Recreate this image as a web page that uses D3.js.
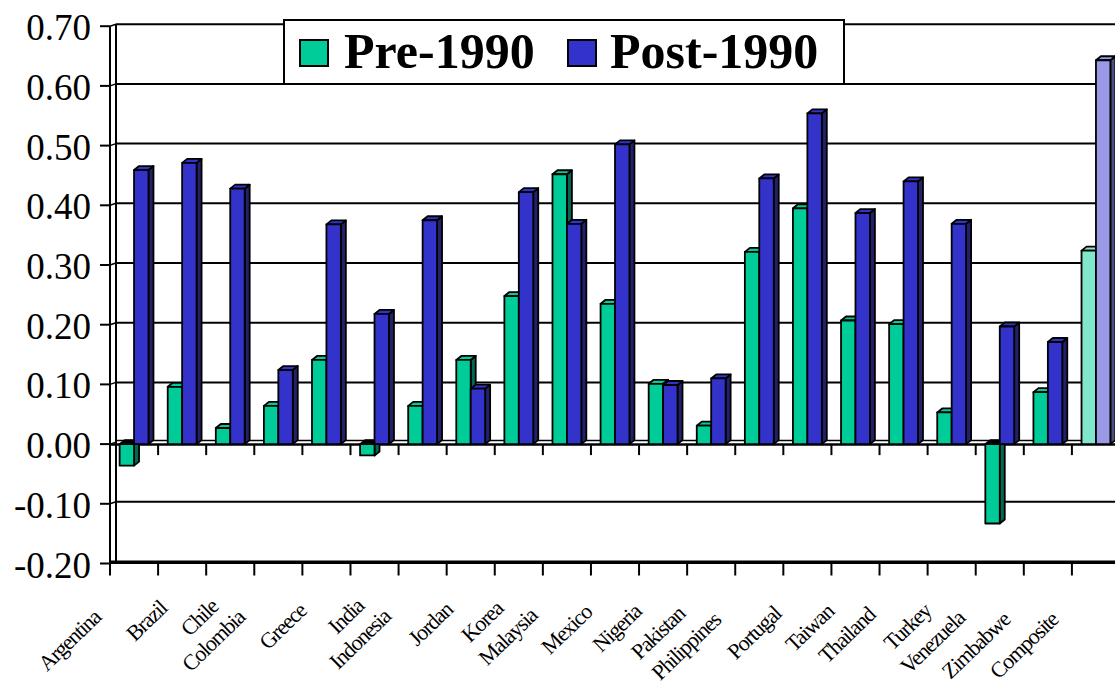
<!DOCTYPE html>
<html>
<head>
<meta charset="utf-8">
<script src="https://cdn.jsdelivr.net/npm/d3@7"></script>
<style>
  html, body { margin: 0; padding: 0; background: #fff; }
  svg { display: block; }
</style>
</head>
<body>
<svg id="chart" width="1115" height="684"></svg>
<script>
const categories = ['Argentina', 'Brazil', 'Chile', 'Colombia', 'Greece', 'India', 'Indonesia',
  'Jordan', 'Korea', 'Malaysia', 'Mexico', 'Nigeria', 'Pakistan', 'Philippines', 'Portugal',
  'Taiwan', 'Thailand', 'Turkey', 'Venezuela', 'Zimbabwe', 'Composite'];
const pre1990 = [-0.036, 0.096, 0.027, 0.064, 0.141, -0.019, 0.064, 0.141, 0.248, 0.452, 0.235,
  0.101, 0.031, 0.322, 0.395, 0.207, 0.201, 0.053, -0.133, 0.087, 0.324];
const post1990 = [0.459, 0.471, 0.428, 0.124, 0.368, 0.218, 0.375, 0.093, 0.422, 0.369, 0.502,
  0.099, 0.110, 0.445, 0.554, 0.387, 0.440, 0.369, 0.197, 0.171, 0.643];
const seriesNames = ['Pre-1990', 'Post-1990'];
const yTicks = [-0.2, -0.1, 0, 0.1, 0.2, 0.3, 0.4, 0.5, 0.6, 0.7];

// colours: front, top, side ; the composite gets the pale versions
const palette = {
  'Pre-1990': { front: '#00cc99', top: '#00cc99', side: '#006a50' },
  'Post-1990': { front: '#3333cc', top: '#3333cc', side: '#22226b' }
};
const paletteComposite = {
  'Pre-1990': { front: '#80e6cc', top: '#80e6cc', side: '#40806a' },
  'Post-1990': { front: '#9999e6', top: '#9999e6', side: '#4d4d80' }
};

const svg = d3.select('#chart');
const serif = '"Liberation Serif", "Times New Roman", serif';
const dx = 5, dy = 4;       // depth offset of the 3d bars
const wallX = 116;          // back wall left edge
const right = 1120;

const y = d3.scaleLinear().domain([-0.2, 0.7]).range([563.5, 26.2]);
const x = d3.scaleBand().domain(categories).range([110, right]).padding(0);
const bw = x.bandwidth();
const fmt = d3.formatLocale({ decimal: '.', thousands: ',', grouping: [3], currency: ['', ''], minus: '-' }).format('.2f');

const grid = svg.append('g').attr('stroke', '#000').attr('fill', 'none');

// back wall grid lines + left axis ticks
yTicks.forEach(v => {
  const yy = y(v);
  if (v > -0.2 && v !== 0) {
    grid.append('line').attr('x1', wallX).attr('x2', right).attr('y1', yy - 2).attr('y2', yy - 2).attr('stroke-width', 2);
  }
  grid.append('line').attr('x1', 100).attr('x2', 110).attr('y1', yy).attr('y2', yy).attr('stroke-width', 2);
  grid.append('line').attr('x1', 110).attr('x2', wallX).attr('y1', yy).attr('y2', yy - 2).attr('stroke-width', 1.5);
});

// left axis (double line)
grid.append('line').attr('x1', 110).attr('x2', 110).attr('y1', y(0.7)).attr('y2', y(-0.2) + 1).attr('stroke-width', 2);
grid.append('line').attr('x1', wallX).attr('x2', wallX).attr('y1', y(0.7) - 2).attr('y2', y(-0.2) - 2).attr('stroke-width', 2);

// floor at -0.20
grid.append('line').attr('x1', 110).attr('x2', right).attr('y1', y(-0.2) - 1.2).attr('y2', y(-0.2) - 1.2).attr('stroke-width', 3.4);
d3.range(categories.length + 1).forEach(i => {
  const xx = 110 + i * bw;
  grid.append('line').attr('x1', xx).attr('x2', xx).attr('y1', y(-0.2)).attr('y2', y(-0.2) + 12).attr('stroke-width', 2);
});

// zero plane
const y0 = y(0);
grid.append('line').attr('x1', wallX).attr('x2', right).attr('y1', y0 - 3.5).attr('y2', y0 - 3.5).attr('stroke-width', 1.5);
grid.append('line').attr('x1', 110).attr('x2', right).attr('y1', y0 + 0.5).attr('y2', y0 + 0.5).attr('stroke-width', 2.5);
d3.range(1, categories.length + 1).forEach(i => {
  const xx = 110 + i * bw;
  grid.append('line').attr('x1', xx).attr('x2', xx).attr('y1', y0).attr('y2', y0 + 11).attr('stroke-width', 2);
});

// y tick labels
svg.append('g').selectAll('text').data(yTicks).join('text')
  .attr('x', 91).attr('y', d => y(d) + 14)
  .attr('text-anchor', 'end')
  .style('font-family', serif).style('font-size', '37px')
  .text(d => fmt(d));

// 3d bars
function bar3d(g, x0, w, v, col) {
  const yTop = v >= 0 ? y(v) : y0;
  const yBot = v >= 0 ? y0 : y(v);
  const x1 = x0 + w;
  g.append('polygon')
    .attr('points', [[x1, yTop], [x1 + dx, yTop - dy], [x1 + dx, yBot - dy], [x1, yBot]].join(' '))
    .attr('fill', col.side);
  g.append('polygon')
    .attr('points', [[x0, yTop], [x0 + dx, yTop - dy], [x1 + dx, yTop - dy], [x1, yTop]].join(' '))
    .attr('fill', v >= 0 ? col.top : '#000');
  g.append('rect').attr('x', x0).attr('y', yTop).attr('width', w).attr('height', yBot - yTop)
    .attr('fill', col.front);
}

const bars = svg.append('g').attr('stroke', '#000').attr('stroke-width', 1.8).attr('stroke-linejoin', 'round');
categories.forEach((c, i) => {
  const b = x(c);
  const pal = c === 'Composite' ? paletteComposite : palette;
  bar3d(bars, b + bw * 0.2, bw * 0.3, pre1990[i], pal['Pre-1990']);
  bar3d(bars, b + bw * 0.5, bw * 0.3, post1990[i], pal['Post-1990']);
});

// category labels, rotated
const lab = svg.append('g');
categories.forEach(c => {
  const t = lab.append('text')
    .attr('text-anchor', 'end')
    .style('font-family', serif).style('font-size', '22px').style('letter-spacing', '-1.2px')
    .text(c);
  const L = t.node().getComputedTextLength();
  const cx = x(c) + bw / 2;
  const ex = cx - 14 - 0.6 * (L - 47);
  const ey = 610 + 0.3 * (L - 47);
  t.attr('transform', `translate(${ex},${ey}) rotate(-44)`);
});

// legend
const leg = svg.append('g');
leg.append('rect').attr('x', 284).attr('y', 20).attr('width', 560).attr('height', 64)
  .attr('fill', '#fff').attr('stroke', '#000').attr('stroke-width', 2);
const legX = [[300, 344], [568, 610]];
seriesNames.forEach((s, i) => {
  leg.append('rect').attr('x', legX[i][0]).attr('y', 40).attr('width', 28).attr('height', 26)
    .attr('fill', palette[s].front).attr('stroke', '#000').attr('stroke-width', 2);
  leg.append('text').attr('x', legX[i][1]).attr('y', 68)
    .style('font-family', serif).style('font-size', '50px').style('font-weight', 'bold')
    .text(s);
});
</script>
</body>
</html>
